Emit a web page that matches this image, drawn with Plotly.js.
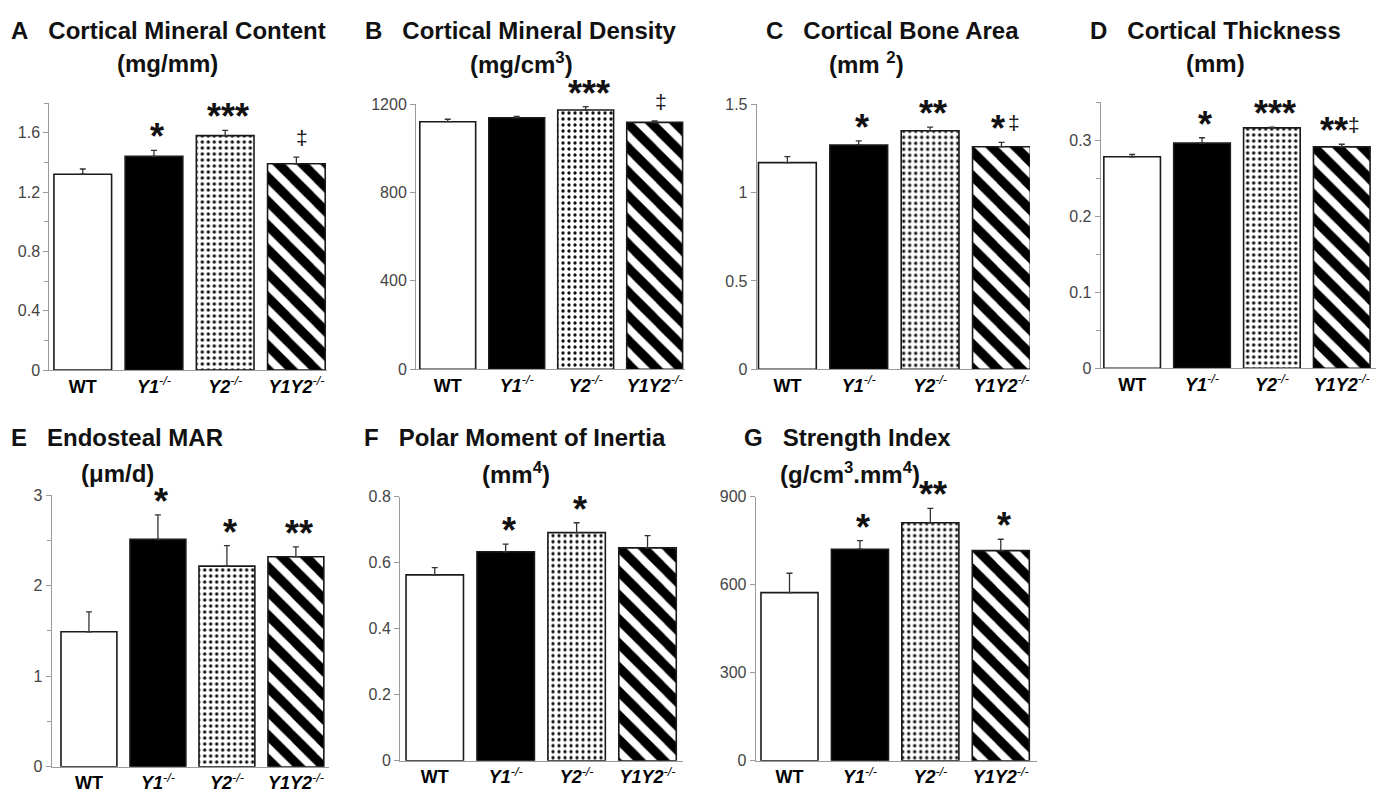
<!DOCTYPE html>
<html><head><meta charset="utf-8">
<script src="https://cdn.plot.ly/plotly-3.0.1.min.js"></script>
<style>html,body{margin:0;padding:0;background:#fff}</style>
</head><body>
<div id="chart" style="width:1382px;height:794px"></div>
<script>
// ---------- data ----------
const categories = ['WT', 'Y1-/-', 'Y2-/-', 'Y1Y2-/-'];
const tickLabels = ['<b>WT</b>', '<b><i>Y1</i></b><i><sup>-/-</sup></i>', '<b><i>Y2</i></b><i><sup>-/-</sup></i>', '<b><i>Y1Y2</i></b><i><sup>-/-</sup></i>'];

const contentVals = [1.32, 1.44, 1.58, 1.39];
const contentErr  = [0.035, 0.04, 0.035, 0.045];
const contentSig  = ['', '*', '***', ''];
const contentDag  = [false, false, false, true];

const densityVals = [1120, 1138, 1173, 1117];
const densityErr  = [11, 6, 15, 6];
const densitySig  = ['', '', '***', ''];
const densityDag  = [false, false, false, true];

const areaVals = [1.17, 1.27, 1.35, 1.26];
const areaErr  = [0.034, 0.023, 0.021, 0.025];
const areaSig  = ['', '*', '**', '*'];
const areaDag  = [false, false, false, true];

const thickVals = [0.278, 0.296, 0.316, 0.291];
const thickErr  = [0.003, 0.007, 0.001, 0.0035];
const thickSig  = ['', '*', '***', '**'];
const thickDag  = [false, false, false, true];

const marVals = [1.49, 2.51, 2.215, 2.318];
const marErr  = [0.22, 0.27, 0.225, 0.11];
const marSig  = ['', '*', '*', '**'];
const marDag  = [false, false, false, false];

const inertiaVals = [0.563, 0.633, 0.691, 0.645];
const inertiaErr  = [0.022, 0.023, 0.03, 0.037];
const inertiaSig  = ['', '*', '*', ''];
const inertiaDag  = [false, false, false, false];

const strengthVals = [573, 721, 811, 716];
const strengthErr  = [66, 29, 49, 39];
const strengthSig  = ['', '*', '**', '*'];
const strengthDag  = [false, false, false, false];

const panelLetters = ['A', 'B', 'C', 'D', 'E', 'F', 'G'];
const panelTitles = ['Cortical Mineral Content', 'Cortical Mineral Density', 'Cortical Bone Area', 'Cortical Thickness', 'Endosteal MAR', 'Polar Moment of Inertia', 'Strength Index'];
const panelUnits = ['(mg/mm)', '(mg/cm<sup>3</sup>)', '(mm <sup>2</sup>)', '(mm)', '(μm/d)', '(mm<sup>4</sup>)', '(g/cm<sup>3</sup>.mm<sup>4</sup>)'];

const series = [
  [contentVals, contentErr, contentSig, contentDag],
  [densityVals, densityErr, densitySig, densityDag],
  [areaVals, areaErr, areaSig, areaDag],
  [thickVals, thickErr, thickSig, thickDag],
  [marVals, marErr, marSig, marDag],
  [inertiaVals, inertiaErr, inertiaSig, inertiaDag],
  [strengthVals, strengthErr, strengthSig, strengthDag]
];

// ---------- layout geometry (pixels) ----------
const W = 1382, H = 794;
const geom = [
  {x0: 49.3, x1: 327, yb: 370, yt: 103, xr: [-0.47, 3.43], ymax: 1.8, dtick: 0.4, minor: 0.2, t1: 168, t2: 167, row: 0},
  {x0: 416, x1: 685, yb: 369.3, yt: 104, xr: [-0.46, 3.44], ymax: 1200, dtick: 400, minor: null, t1: 520, t2: 521, row: 0},
  {x0: 756.7, x1: 1030, yb: 369.3, yt: 104.3, xr: [-0.43, 3.40], ymax: 1.5, dtick: 0.5, minor: null, t1: 892, t2: 866, row: 0},
  {x0: 1100.7, x1: 1376, yb: 368.3, yt: 102, xr: [-0.45, 3.49], ymax: 0.35, dtick: 0.1, minor: 0.05, t1: 1215.5, t2: 1215.5, row: 0},
  {x0: 51.7, x1: 329, yb: 766.7, yt: 495, xr: [-0.54, 3.48], ymax: 3, dtick: 1, minor: 0.5, t1: 117, t2: 117.5, row: 1},
  {x0: 400, x1: 683, yb: 760.7, yt: 496.7, xr: [-0.49, 3.5], ymax: 0.8, dtick: 0.2, minor: null, t1: 515, t2: 516, row: 1},
  {x0: 755.7, x1: 1036.7, yb: 760.7, yt: 496.7, xr: [-0.48, 3.51], ymax: 900, dtick: 300, minor: null, t1: 847.5, t2: 850, row: 1}
];
const rowTitleY = [[30.5, 63], [438, 473]];

const SANS = 'Liberation Sans, Arial, sans-serif';
const AXIS_GRAY = '#9a9a9a';

// bar styles per category: WT white, Y1 black, Y2 dotted, Y1Y2 diagonal stripes
const barStyles = [
  {color: 'white', pattern: {shape: ''}},
  {color: 'black', pattern: {shape: ''}},
  {color: 'white', pattern: {shape: '.', size: 6, solidity: 0.24, fgcolor: '#111', bgcolor: 'white', fillmode: 'replace'}},
  {color: 'white', pattern: {shape: '\\', size: 17, solidity: 0.55, fgcolor: '#000', bgcolor: 'white', fillmode: 'replace'}}
];

const traces = [];
const layout = {
  width: W, height: H,
  margin: {l: 0, r: 0, t: 0, b: 0},
  paper_bgcolor: 'white', plot_bgcolor: 'white',
  showlegend: false, barmode: 'overlay',
  annotations: [],
  font: {family: SANS, color: '#111'}
};

series.forEach((s, i) => {
  const [vals, err, sig, dag] = s;
  const g = geom[i];
  const n = i + 1;
  const xa = 'xaxis' + (n === 1 ? '' : n);
  const ya = 'yaxis' + (n === 1 ? '' : n);
  const xr = 'x' + (n === 1 ? '' : n);
  const yr = 'y' + (n === 1 ? '' : n);
  const xs = [0, 1, 2, 3];
  vals.forEach((v, k) => {
    const st = barStyles[k];
    const marker = {color: st.color, line: {color: '#1a1a1a', width: 1.6}};
    if (st.pattern.shape) marker.pattern = st.pattern;
    traces.push({
      type: 'bar', x: [xs[k]], y: [v], name: categories[k], xaxis: xr, yaxis: yr, width: 0.81,
      marker: marker,
      error_y: {type: 'data', symmetric: false, array: [err[k]], arrayminus: [0], color: '#333', thickness: 1.3, width: 3},
      hoverinfo: 'skip'
    });
  });
  layout[xa] = {
    domain: [g.x0 / W, g.x1 / W], anchor: yr, range: g.xr, fixedrange: true,
    showline: true, linecolor: AXIS_GRAY, linewidth: 1, showgrid: false, zeroline: false,
    ticks: '', tickmode: 'array', tickvals: xs, ticktext: tickLabels,
    tickfont: {family: SANS, size: 18, color: '#000'}
  };
  const yaxis = {
    domain: [1 - g.yb / H, 1 - g.yt / H], anchor: xr, range: [0, g.ymax], fixedrange: true,
    showline: true, linecolor: AXIS_GRAY, linewidth: 1, showgrid: false, zeroline: false,
    ticks: 'outside', ticklen: 5, tickcolor: AXIS_GRAY, tickwidth: 1,
    tick0: 0, dtick: g.dtick,
    tickfont: {family: SANS, size: 16, color: '#444'}
  };
  if (g.minor) yaxis.minor = {dtick: g.minor, ticks: 'outside', ticklen: 4, tickcolor: AXIS_GRAY, showgrid: false};
  layout[ya] = yaxis;

  // titles
  const [ty1, ty2] = rowTitleY[g.row];
  layout.annotations.push({
    xref: 'paper', yref: 'paper', x: g.t1 / W, y: 1 - ty1 / H, xanchor: 'center', yanchor: 'middle',
    text: '<b>' + panelLetters[i] + '\u00a0\u00a0\u00a0' + panelTitles[i] + '</b>', showarrow: false,
    font: {family: SANS, size: 24, color: '#111'}
  });
  layout.annotations.push({
    xref: 'paper', yref: 'paper', x: g.t2 / W, y: 1 - ty2 / H, xanchor: 'center', yanchor: 'middle',
    text: '<b>' + panelUnits[i] + '</b>', showarrow: false,
    font: {family: SANS, size: 24, color: '#111'}
  });

  // significance marks
  vals.forEach((v, k) => {
    const top = v + err[k];
    const nStars = sig[k].length;
    if (nStars) {
      layout.annotations.push({
        xref: xr, yref: yr, x: k, y: top, xanchor: 'center', yanchor: 'bottom',
        yshift: -9, xshift: dag[k] ? -(5 * nStars - 2) : 3,
        text: '<b>' + sig[k] + '</b>', showarrow: false,
        font: {family: SANS, size: 36, color: '#111'}
      });
    }
    if (dag[k]) {
      layout.annotations.push({
        xref: xr, yref: yr, x: k, y: top, xanchor: 'center', yanchor: 'bottom',
        yshift: 6, xshift: nStars ? 12.5 : 6,
        text: '‡', showarrow: false,
        font: {family: SANS, size: 21, color: '#111'}
      });
    }
  });
});

Plotly.newPlot('chart', traces, layout, {staticPlot: true, displayModeBar: false});
</script>
</body></html>
